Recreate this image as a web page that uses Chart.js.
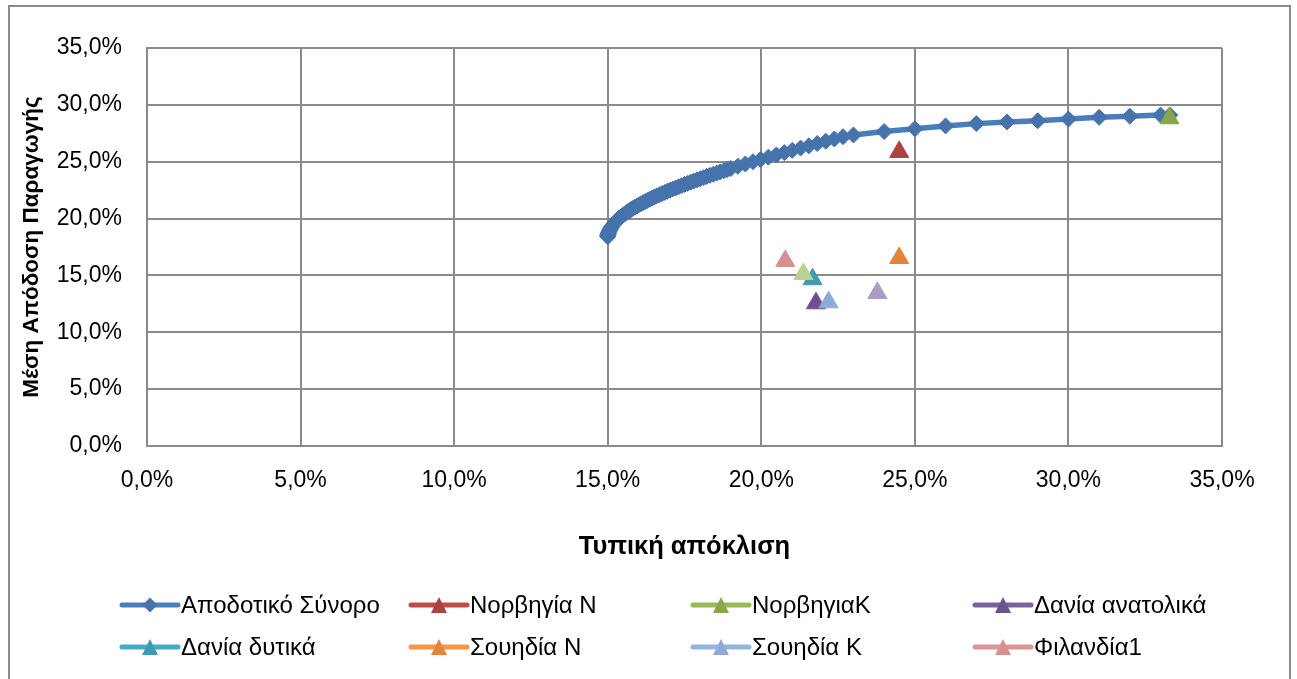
<!DOCTYPE html>
<html>
<head>
<meta charset="utf-8">
<script src="https://cdn.jsdelivr.net/npm/chart.js@4.4.1/dist/chart.umd.min.js"></script>
<style>
  html, body { margin: 0; padding: 0; background: #fff; overflow: hidden; }
  canvas { display: block; }
</style>
</head>
<body>
<canvas id="chart" width="1297" height="679"></canvas>
<script>
// Efficient frontier: standard deviation (%) and mean return (%)
const frontierStd = [
  15.00, 15.00, 15.01, 15.02, 15.03, 15.05, 15.07, 15.09, 15.11, 15.13,
  15.16, 15.19, 15.22, 15.25, 15.29, 15.32, 15.36, 15.41, 15.45, 15.50,
  15.55, 15.60, 15.65, 15.71, 15.76, 15.82, 15.88, 15.95, 16.01, 16.08,
  16.15, 16.22, 16.29, 16.37, 16.45, 16.52, 16.60, 16.69, 16.77, 16.86,
  16.94, 17.03, 17.12, 17.22, 17.31, 17.41, 17.50, 17.60, 17.70, 17.80,
  17.91, 18.01, 18.12, 18.22, 18.33, 18.44, 18.55, 18.66, 18.78, 18.89,
  19.01, 19.24, 19.48, 19.73, 19.98, 20.23, 20.49, 20.75, 21.01, 21.28,
  21.55, 21.82, 22.10, 22.38, 22.66, 23.00, 24.00, 25.00, 26.00, 27.00,
  28.00, 29.00, 30.00, 31.00, 32.00, 33.00, 33.30
];
const frontierReturn = [
  18.40, 18.50, 18.60, 18.70, 18.80, 18.90, 19.00, 19.10, 19.20, 19.30,
  19.40, 19.50, 19.60, 19.70, 19.80, 19.90, 20.00, 20.10, 20.20, 20.30,
  20.40, 20.50, 20.60, 20.70, 20.80, 20.90, 21.00, 21.10, 21.20, 21.30,
  21.40, 21.50, 21.60, 21.70, 21.80, 21.90, 22.00, 22.10, 22.20, 22.30,
  22.40, 22.50, 22.60, 22.70, 22.80, 22.90, 23.00, 23.10, 23.20, 23.30,
  23.40, 23.50, 23.60, 23.70, 23.80, 23.90, 24.00, 24.10, 24.20, 24.30,
  24.40, 24.60, 24.80, 25.00, 25.20, 25.40, 25.60, 25.80, 26.00, 26.20,
  26.40, 26.60, 26.80, 27.00, 27.20, 27.35, 27.65, 27.90, 28.15, 28.35,
  28.50, 28.60, 28.75, 28.90, 29.00, 29.10, 29.10
];

// Individual regions: standard deviation (%) and mean return (%)
const regionNames  = ['Νορβηγία Ν', 'ΝορβηγιαΚ', 'Δανία ανατολικά', 'Δανία δυτικά',
                      'Σουηδία Ν', 'Σουηδία Κ', 'Φιλανδία1', 'Φιλανδία2', 'Εσθονία'];
const regionStd    = [24.49, 33.29, 21.78, 21.67, 24.49, 22.19, 20.78, 21.37, 23.78];
const regionReturn = [25.86, 28.82, 12.55, 14.66, 16.53, 12.64, 16.27, 15.13, 13.46];

const frontierName = 'Αποδοτικό Σύνορο';
const axisTickValues = [0, 5, 10, 15, 20, 25, 30, 35];

// Colours
const frontierLine = '#4A7EBB';
const frontierMarker = '#4673AC';
const regionFill = ['#AA4340', '#86A74C', '#6B5190', '#3E9BB3', '#E3843A', '#8EABD8', '#D8908E', '#B9D191', '#AB9CC6'];
const regionLine = ['#BE4B48', '#98B954', '#7D60A0', '#46AAC5', '#F69546', '#94B3DE', '#D99694', '#C3D69B', '#B3A2C7'];

const FONT = '"Liberation Sans", Arial, sans-serif';
const GRID = '#8A8A8A';

const fmtPct = v => v.toFixed(1).replace('.', ',') + '%';

const datasets = [{
  label: frontierName,
  data: frontierStd.map((s, i) => ({ x: s, y: frontierReturn[i] })),
  showLine: true,
  borderColor: frontierLine,
  borderWidth: 5.5,
  backgroundColor: frontierMarker,
  pointStyle: 'rectRot',
  pointRadius: 8,
  pointBorderWidth: 1,
  pointBorderColor: frontierMarker,
  pointBackgroundColor: frontierMarker,
  tension: 0,
  order: regionNames.length + 1
}];
regionNames.forEach((name, i) => {
  datasets.push({
    label: name,
    data: [{ x: regionStd[i], y: regionReturn[i] }],
    showLine: false,
    borderColor: regionLine[i],
    backgroundColor: regionFill[i],
    pointStyle: 'triangle',
    pointRadius: 11,
    pointBorderWidth: 1,
    pointBorderColor: regionFill[i],
    pointBackgroundColor: regionFill[i],
    order: regionNames.length - i
  });
});

// Frame around the whole chart
const framePlugin = {
  id: 'frame',
  beforeDraw(chart) {
    const ctx = chart.ctx;
    ctx.save();
    ctx.fillStyle = '#fff';
    ctx.fillRect(0, 0, chart.width, chart.height);
    ctx.strokeStyle = GRID;
    ctx.lineWidth = 2;
    ctx.beginPath();
    ctx.moveTo(9, chart.height + 10);
    ctx.lineTo(9, 6);
    ctx.lineTo(1290, 6);
    ctx.lineTo(1290, chart.height + 10);
    ctx.stroke();
    ctx.restore();
  }
};

// Legend laid out in four columns
const legendPlugin = {
  id: 'gridLegend',
  afterDraw(chart) {
    const ctx = chart.ctx;
    const cols = [122, 411, 693, 975];
    const rows = [605, 647];
    const lineLen = 56;
    const shown = chart.data.datasets.slice(0, 8);
    ctx.save();
    ctx.font = '24px ' + FONT;
    ctx.textBaseline = 'middle';
    shown.forEach((ds, i) => {
      const x0 = cols[i % 4];
      const y = rows[Math.floor(i / 4)];
      ctx.strokeStyle = ds.borderColor;
      ctx.lineWidth = 5;
      ctx.lineCap = 'round';
      ctx.beginPath();
      ctx.moveTo(x0, y);
      ctx.lineTo(x0 + lineLen, y);
      ctx.stroke();
      const cx = x0 + lineLen / 2;
      ctx.fillStyle = ds.pointBackgroundColor;
      ctx.beginPath();
      if (ds.pointStyle === 'rectRot') {
        const r = 7.5;
        ctx.moveTo(cx - r, y);
        ctx.lineTo(cx, y - r);
        ctx.lineTo(cx + r, y);
        ctx.lineTo(cx, y + r);
      } else {
        const h = 8;
        ctx.moveTo(cx, y - h);
        ctx.lineTo(cx + h, y + h);
        ctx.lineTo(cx - h, y + h);
      }
      ctx.closePath();
      ctx.fill();
      ctx.fillStyle = '#000';
      ctx.fillText(ds.label, x0 + lineLen + 3, y + 1);
    });
    ctx.restore();
  }
};

new Chart(document.getElementById('chart'), {
  type: 'scatter',
  data: { datasets },
  plugins: [framePlugin, legendPlugin],
  options: {
    responsive: false,
    animation: false,
    devicePixelRatio: 1,
    layout: { padding: { top: 48, right: 75, bottom: 0, left: 0 } },
    plugins: { legend: { display: false }, tooltip: { enabled: false } },
    scales: {
      x: {
        type: 'linear',
        min: 0, max: 35,
        afterBuildTicks: s => { s.ticks = axisTickValues.map(v => ({ value: v })); },
        afterFit: s => { s.height = 233; },
        ticks: { padding: 21, color: '#000', font: { family: FONT, size: 23 }, callback: v => fmtPct(v), maxRotation: 0 },
        grid: { color: GRID, lineWidth: 2, drawTicks: false },
        border: { color: GRID, width: 2 },
        title: {
          display: true, text: 'Τυπική απόκλιση', color: '#000',
          font: { family: FONT, size: 25.5, weight: 'bold' },
          padding: { top: 0, bottom: 117 }
        }
      },
      y: {
        type: 'linear',
        min: 0, max: 35,
        afterBuildTicks: s => { s.ticks = axisTickValues.map(v => ({ value: v })); },
        afterFit: s => { s.width = 147; },
        ticks: { padding: 25, color: '#000', font: { family: FONT, size: 23 }, callback: v => fmtPct(v) },
        grid: { color: GRID, lineWidth: 2, drawTicks: false },
        border: { color: GRID, width: 2 },
        title: {
          display: true, text: 'Μέση Απόδοση Παραγωγής', color: '#000',
          font: { family: FONT, size: 22.5, weight: 'bold' },
          padding: { top: 18, bottom: 0 }
        }
      }
    }
  }
});
</script>
</body>
</html>
